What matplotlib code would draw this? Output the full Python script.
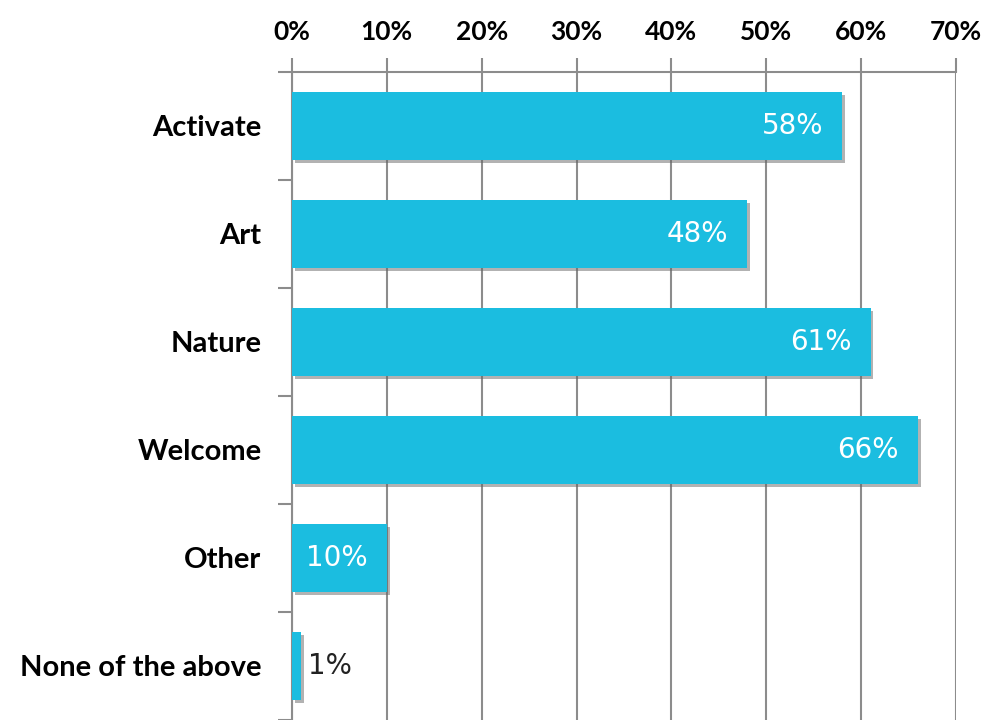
import numpy as np
import matplotlib
matplotlib.use('Agg')
from matplotlib import pyplot as plt
from matplotlib import patheffects as pe
from matplotlib.ticker import FuncFormatter, FixedLocator

categories = ['Activate', 'Art', 'Nature', 'Welcome', 'Other', 'None of the above']
values = [58, 48, 61, 66, 10, 1]
labels = ['58%', '48%', '61%', '66%', '10%', '1%']
xticks = [0, 10, 20, 30, 40, 50, 60, 70]

bar_color = '#1BBDE0'
grid_color = '#8C8C8C'

fig = plt.figure(figsize=(9.93, 7.2), dpi=100)
ax = fig.add_axes([0.294, 0.0, 0.6687, 0.9])

y = np.arange(len(categories))
shadow = [pe.SimplePatchShadow(offset=(2, -2), shadow_rgbFace='#666666', alpha=0.5), pe.Normal()]
bars = ax.barh(y, values, height=0.63, color=bar_color, zorder=3)
for b in bars:
    b.set_path_effects(shadow)

ax.set_xlim(0, 70)
ax.set_ylim(len(categories) - 0.5, -0.5)

ax.xaxis.tick_top()
ax.xaxis.set_major_locator(FixedLocator(xticks))
ax.xaxis.set_major_formatter(FuncFormatter(lambda v, p: f'{int(v)}%'))
ax.tick_params(axis='x', which='major', direction='out', length=10, width=1.5,
               color=grid_color, pad=10, labelsize=19)
for t in ax.get_xticklabels():
    t.set_fontweight('bold')
    t.set_fontfamily('Lato')

ax.set_yticks(y)
ax.set_yticklabels(categories, fontsize=21, fontweight='bold', fontfamily='Lato')
ax.yaxis.set_minor_locator(FixedLocator(np.arange(-0.5, len(categories), 1.0)))
ax.tick_params(axis='y', which='major', length=0, pad=22)
ax.tick_params(axis='y', which='minor', direction='out', length=10, width=1.5, color=grid_color)

ax.grid(axis='x', color=grid_color, linewidth=1.5, zorder=0)
ax.set_axisbelow(True)
for s in ['right', 'bottom']:
    ax.spines[s].set_visible(False)
for s in ['top', 'left']:
    ax.spines[s].set_color(grid_color)
    ax.spines[s].set_linewidth(1.5)

for yi, v, lab in zip(y, values, labels):
    if v >= 5:
        ax.text(v - 2.0, yi, lab, ha='right', va='center', color='white',
                fontsize=20, fontfamily='DejaVu Sans', zorder=4)
    else:
        ax.text(v + 0.7, yi, lab, ha='left', va='center', color='#222222',
                fontsize=20, fontfamily='DejaVu Sans', zorder=4)

fig.savefig('out.png', dpi=100)
